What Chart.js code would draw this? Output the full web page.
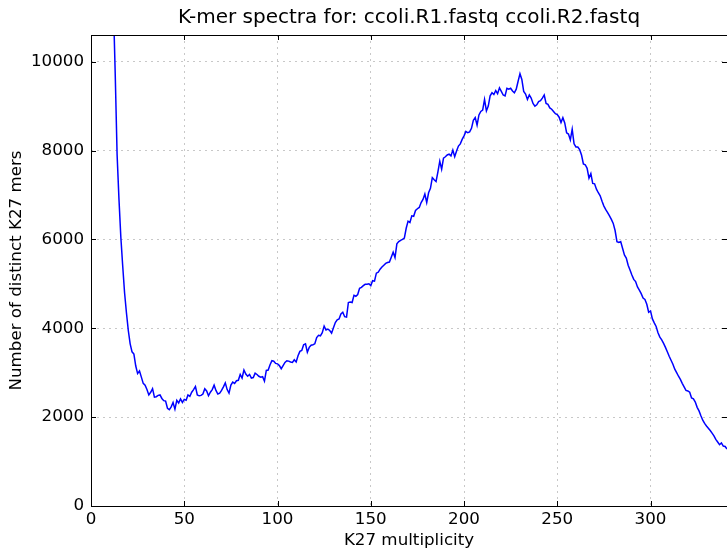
<!DOCTYPE html>
<html>
<head>
<meta charset="utf-8">
<script src="https://cdn.jsdelivr.net/npm/chart.js@4.4.1/dist/chart.umd.min.js"></script>
<style>
  html, body { margin: 0; padding: 0; background: #fff; }
  #wrap { width: 727px; height: 551px; }
</style>
</head>
<body>
<div id="wrap"><canvas id="spectra"></canvas></div>
<script>
// distinct k-mer counts for multiplicity 1, 2, 3, ...
const counts = [
  450000, 180000, 95000, 60000, 42000, 31000, 24500, 20000, 17000, 15200,
  13300, 11300, 9700, 7900, 6900, 6050, 5400, 4800, 4350, 3950,
  3650, 3470, 3420, 3150, 2980, 3040, 2900, 2760, 2720, 2620,
  2500, 2560, 2640, 2450, 2460, 2490, 2500, 2420, 2370, 2360,
  2200, 2170, 2230, 2330, 2180, 2380, 2320, 2410, 2330, 2400,
  2380, 2500, 2470, 2560, 2620, 2690, 2500, 2480, 2490, 2520,
  2640, 2590, 2480, 2560, 2620, 2720, 2600, 2520, 2540, 2600,
  2680, 2770, 2620, 2540, 2720, 2790, 2760, 2820, 2830, 2960,
  2880, 3060, 2970, 2920, 2960, 2880, 2890, 2990, 2960, 2920,
  2900, 2910, 2810, 3050, 3060, 3180, 3270, 3260, 3210, 3200,
  3160, 3090, 3160, 3230, 3270, 3260, 3240, 3230, 3290, 3240,
  3380, 3480, 3500, 3630, 3650, 3460, 3570, 3620, 3630, 3650,
  3790, 3840, 3830, 3900, 4050, 3960, 3980, 3950, 3890, 4010,
  4130, 4190, 4210, 4320, 4360, 4260, 4250, 4580, 4590, 4580,
  4740, 4720, 4760, 4900, 4920, 4960, 4990, 4990, 5000, 4960,
  5070, 5060, 5240, 5260, 5330, 5380, 5420, 5460, 5480, 5490,
  5600, 5710, 5590, 5900, 5950, 5980, 6000, 6030, 6250, 6410,
  6380, 6530, 6520, 6650, 6690, 6720, 6830, 6900, 7020, 6830,
  7050, 7150, 7390, 7340, 7300, 7520, 7760, 7580, 7830, 7860,
  7900, 7920, 7880, 8010, 7860, 7990, 8100, 8150, 8250, 8330,
  8430, 8400, 8420, 8500, 8680, 8740, 8570, 8800, 8880, 8910,
  9150, 8890, 9000, 9230, 9300, 9260, 9350, 9280, 9410, 9330,
  9250, 9230, 9400, 9380, 9400, 9340, 9300, 9380, 9560, 9730,
  9600, 9330, 9270, 9150, 9250, 9180, 9060, 9000, 9030, 9100,
  9120, 9180, 9250, 9060, 9040, 8960, 8930, 8880, 8830, 8810,
  8750, 8630, 8740, 8620, 8400, 8370, 8240, 8480, 8150, 8080,
  8080, 8020, 7900, 7700, 7680, 7600, 7380, 7480, 7260, 7250,
  7130, 7050, 6980, 6860, 6750, 6670, 6600, 6530, 6450, 6360,
  6200, 5950, 5930, 5950, 5800, 5650, 5580, 5420, 5310, 5200,
  5100, 5050, 4930, 4860, 4780, 4680, 4650, 4540, 4360, 4390,
  4210, 4120, 4040, 3900, 3800, 3740, 3660, 3570, 3470, 3370,
  3280, 3190, 3080, 3000, 2920, 2850, 2760, 2680, 2600, 2590,
  2560, 2430, 2410, 2340, 2220, 2140, 2030, 1930, 1860, 1800,
  1750, 1700, 1640, 1580, 1500, 1440, 1380, 1420, 1350, 1340,
  1280
]
const multiplicity = counts.map((c, i) => i + 1)

const xTicks = [0, 50, 100, 150, 200, 250, 300]
const yTicks = [0, 2000, 4000, 6000, 8000, 10000]

const titleText = 'K-mer spectra for: ccoli.R1.fastq ccoli.R2.fastq'
const xTitle = 'K27 multiplicity'
const yTitle = 'Number of distinct K27 mers'

Chart.defaults.font.family = 'DejaVu Sans'
Chart.defaults.color = '#000'

// frame + inward tick marks, matplotlib style
const frame = {
  id: 'frame',
  afterDraw(chart) {
    const { ctx, chartArea: a, scales } = chart
    ctx.save()
    ctx.strokeStyle = '#000'
    ctx.lineWidth = 1
    ctx.strokeRect(a.left + 0.5, a.top + 0.5, a.right - a.left, a.bottom - a.top)
    ctx.beginPath()
    xTicks.forEach(v => {
      const px = Math.round(scales.x.getPixelForValue(v)) + 0.5
      ctx.moveTo(px, a.bottom); ctx.lineTo(px, a.bottom - 5)
      ctx.moveTo(px, a.top); ctx.lineTo(px, a.top + 5)
    })
    yTicks.forEach(v => {
      const py = Math.round(scales.y.getPixelForValue(v)) + 0.5
      ctx.moveTo(a.left, py); ctx.lineTo(a.left + 5, py)
      ctx.moveTo(a.right, py); ctx.lineTo(a.right - 5, py)
    })
    ctx.stroke()
    ctx.restore()
  }
}

new Chart(document.getElementById('spectra'), {
  type: 'line',
  data: {
    datasets: [{
      data: multiplicity.map((m, i) => ({ x: m, y: counts[i] })),
      borderColor: '#0000ff',
      borderWidth: 1.5,
      pointRadius: 0,
      tension: 0,
      fill: false
    }]
  },
  options: {
    responsive: true,
    maintainAspectRatio: false,
    animation: false,
    layout: { padding: 0 },
    plugins: {
      legend: { display: false },
      tooltip: { enabled: false },
      title: {
        display: true,
        fullSize: false,
        text: titleText,
        font: { size: 20, weight: 'normal' },
        padding: { top: 6, bottom: 5 }
      }
    },
    scales: {
      x: {
        type: 'linear',
        min: 0,
        max: 341,
        afterFit(s) { s.height = 45 },
        afterBuildTicks(s) { s.ticks = xTicks.map(v => ({ value: v })) },
        ticks: { font: { size: 16.7 }, padding: 4, maxRotation: 0, callback: v => String(v) },
        grid: { color: '#c8c8c8', drawTicks: false, tickLength: 0 },
        border: { display: false, dash: [2, 4] },
        title: { display: true, text: xTitle, font: { size: 16.7 }, padding: { top: 0, bottom: 0 } }
      },
      y: {
        min: 0,
        max: 10600,
        afterFit(s) { s.width = 91 },
        afterBuildTicks(s) { s.ticks = yTicks.map(v => ({ value: v })) },
        ticks: { font: { size: 16.7 }, padding: 7, callback: v => String(v) },
        grid: { color: '#c8c8c8', drawTicks: false, tickLength: 0 },
        border: { display: false, dash: [2, 4] },
        title: { display: true, text: yTitle, font: { size: 16.7 }, padding: { top: 7, bottom: 0 } }
      }
    }
  },
  plugins: [frame]
})
</script>
</body>
</html>
